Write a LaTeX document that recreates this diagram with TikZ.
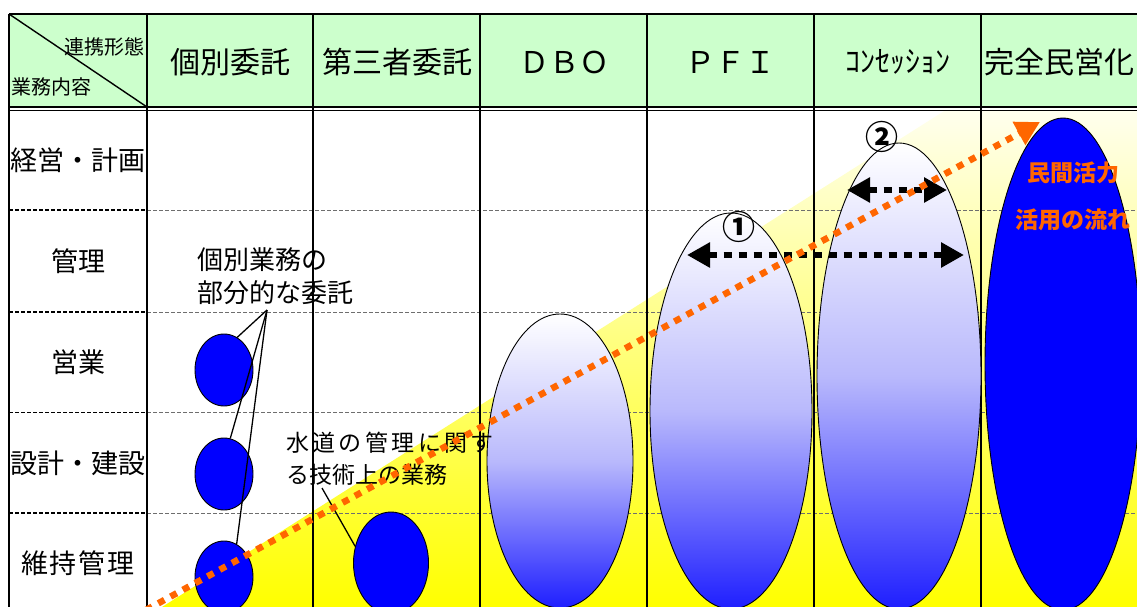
\documentclass[tikz,border=0pt]{standalone}
\usepackage{fontspec}
\setmainfont{Noto Sans CJK JP}
\usetikzlibrary{shapes.geometric,arrows.meta}
\definecolor{hdrgreen}{RGB}{204,255,204}
\definecolor{orng}{RGB}{255,102,0}
\definecolor{pureblue}{RGB}{0,0,255}
\definecolor{gradmid}{RGB}{185,185,252}
\definecolor{gradbot}{RGB}{30,30,255}
\definecolor{gridgrey}{RGB}{110,110,110}
\definecolor{paleyellow}{RGB}{255,255,238}
\begin{document}
\begin{tikzpicture}[x=1pt,y=-1pt,
  gridline/.style={line width=2.2pt,black},
  rowdashA/.style={line width=1.5pt,black,dash pattern=on 4pt off 2pt},
  rowdashB/.style={line width=0.9pt,gridgrey,dash pattern=on 4pt off 2pt},
  hdrtext/.style={font=\fontsize{30}{36}\selectfont,inner sep=0pt},
  rowtext/.style={font=\fontsize{27}{32}\selectfont,inner sep=0pt},
  cornertext/.style={font=\fontsize{20}{24}\selectfont,inner sep=0pt},
  smallblob/.style={ellipse,draw=black,line width=0.9pt,fill=pureblue,inner sep=0pt,minimum width=58pt,minimum height=72pt},
  bigoval/.style={ellipse,draw=black,line width=0.9pt,inner sep=0pt,top color=white,bottom color=gradbot,middle color=gradmid},
  calloutline/.style={line width=1.3pt,black},
  blkdbl/.style={line width=6.5pt,black,dash pattern=on 8pt off 7pt,{Triangle[length=23pt,width=24pt]}-{Triangle[length=23pt,width=24pt]}},
  orangeflow/.style={line width=6.5pt,orng,dash pattern=on 7pt off 7pt,-{Triangle[length=24pt,width=25pt]}},
  numtext/.style={font=\bfseries\fontsize{33}{36}\selectfont,inner sep=0pt},
  flowtext/.style={font=\bfseries\fontsize{23}{26}\selectfont,text=orng,inner sep=0pt}
]
\useasboundingbox (0,0) rectangle (1137,607);
\begin{scope}
\clip (0,0) rectangle (1137,607);
% header fill
\fill[hdrgreen] (9,14) rectangle (1137,107);
% yellow flow band
\shade[top color=paleyellow,bottom color=yellow] (162,607) -- (945,110.5) -- (1137,110.5) -- (1137,607) -- cycle;
% row separators
\foreach \yy in {210,312,412.5,513} {
  \draw[rowdashA] (9,\yy) -- (147,\yy);
  \draw[rowdashB] (147,\yy) -- (1137,\yy);
}
% header lines
\draw[gridline] (9,14) -- (1137,14);
\draw[line width=1.4pt] (9,107) -- (1137,107);
\draw[line width=1.4pt] (9,110.5) -- (1137,110.5);
\foreach \xx in {9,147,313,480,647,814,981} \draw[gridline] (\xx,14) -- (\xx,607);
\draw[line width=1.4pt] (9,14) -- (147,107);

% header texts
\node[cornertext,anchor=east] (hA) at (145,47) {連携形態};
\node[cornertext,anchor=west] (hB) at (11,87) {業務内容};
\node[hdrtext] (h1) at (230,62) {個別委託};
\node[hdrtext] (h2) at (397,62) {第三者委託};
\node[hdrtext] (h3) at (564,62) {ＤＢＯ};
\node[hdrtext] (h4) at (730,62) {ＰＦＩ};
\node[hdrtext] (h5) at (898,62) {ｺﾝｾｯｼｮﾝ};
\node[hdrtext,anchor=west] (h6) at (984,62) {完全民営化};

% row labels
\node[rowtext] (r1) at (78,160) {経営・計画};
\node[rowtext] (r2) at (78,261) {管理};
\node[rowtext] (r3) at (78,362) {営業};
\node[rowtext] (r4) at (78,463) {設計・建設};
\node[rowtext] (r5) at (78,563) {維\hspace{2pt}持\hspace{2pt}管\hspace{2pt}理};

% ellipses
\node[smallblob] (b1) at (224,370) {};
\node[smallblob] (b2) at (224,474) {};
\node[smallblob] (b3) at (224,577) {};
\node[smallblob,minimum width=75pt,minimum height=102pt] (b4) at (391,563) {};
\node[bigoval,minimum width=146pt,minimum height=294pt] (dbo) at (560,461) {};
\node[bigoval,minimum width=162pt,minimum height=396pt] (pfi) at (731,411) {};
\node[bigoval,minimum width=164pt,minimum height=466pt] (con) at (899,376) {};
\node[ellipse,draw=black,line width=0.9pt,fill=pureblue,inner sep=0pt,minimum width=156pt,minimum height=492pt] (full) at (1063,364) {};

% callouts
\node[anchor=west,align=left,inner sep=0pt,font=\fontsize{26}{33}\selectfont] (c1) at (197,276) {個別業務の\\部分的な委託};
\coordinate (apex) at (267,310);
\draw[calloutline] (apex) -- (b1.68);
\draw[calloutline] (apex) -- (b2.80);
\draw[calloutline] (apex) -- (b3.69);
\node[anchor=west,align=left,inner sep=0pt,font=\fontsize{23}{32}\selectfont] (c2) at (286,459)
  {水\hspace{3.4pt}道\hspace{3.4pt}の\hspace{3.4pt}管\hspace{3.4pt}理\hspace{3.4pt}に\hspace{3.4pt}関\hspace{3.4pt}す\\る技術上の業務};
\coordinate (c2tail) at (322,488);
\draw[calloutline] (c2tail) -- (b4.155);

% circled numbers and double arrows
\node[numtext] (n1) at (739,227) {①};
\node[numtext] (n2) at (882,137) {②};
\coordinate (a1l) at (687,255);
\coordinate (a1r) at (964,255);
\coordinate (a2l) at (847,190);
\coordinate (a2r) at (947,190);
\draw[blkdbl] (a1l) -- (a1r);
\draw[blkdbl] (a2l) -- (a2r);

% flow texts
\node[flowtext] (f1) at (1073,173) {民間活力};
\node[flowtext] (f2) at (1073,220) {活用の流れ};

% orange flow arrow
\coordinate (ostart) at (146,610);
\coordinate (oend) at (1040,122);
\draw[orangeflow] (ostart) -- (oend);
\end{scope}
\end{tikzpicture}
\end{document}
